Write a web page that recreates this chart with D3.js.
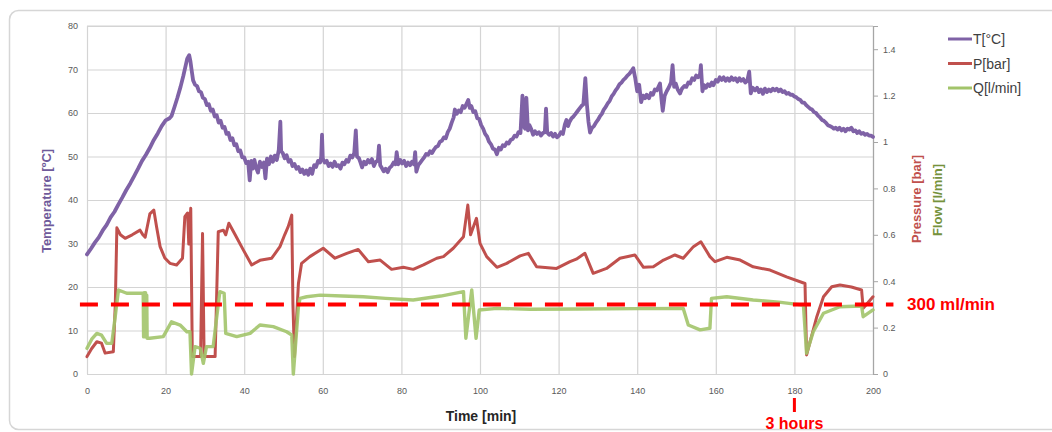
<!DOCTYPE html>
<html lang="en">
<head>
  <meta charset="UTF-8">
  <title>Temperature, pressure and flow vs time</title>
  <style>
    body { margin: 0; background: #fff; font-family: "Liberation Sans", Arial, sans-serif; }
    .tick text { font-size: 9px; fill: #595959; font-family: "Liberation Sans", Arial, sans-serif; }
    .grid line { stroke: #d4d4d4; stroke-width: 1.2; }
    .grid path { stroke: none; }
  </style>
</head>
<body>
<div id="chart"></div>
<script src="https://d3js.org/d3.v7.min.js"></script>
<script>
  // time [min], temperature [°C]
  const tempData = [[0,27.5],[1,28.8],[2,30.2],[3,31.4],[4,33],[5,34.3],[6,36],[7,37.3],[8,39],[9,40.6],[10,42.3],[11,43.8],[12,45.5],[13,47.2],[14,49],[15,50.4],[16,52],[17,53.8],[18,55.3],[19,57],[20,58.3],[21,58.8],[21.5,59.3],[22.3,61.5],[23,63.5],[23.8,66],[24.5,68.5],[25,70.5],[25.5,72.5],[26,73.3],[26.3,72],[26.6,70],[27,67.5],[27.5,66.5],[28,66.2],[28.5,65],[29,64.8],[29.5,63.5],[30,63.2],[30.5,61.8],[31,62],[31.5,60.5],[32,60.8],[32.5,59.2],[33,59.5],[33.5,57.8],[34,58.2],[34.5,56.6],[35,56.8],[35.5,55.2],[36,55.4],[36.5,53.8],[37,54.2],[37.5,52.6],[38,52.8],[38.5,51.2],[39,51.4],[39.5,49.8],[40,49.8],[40.5,48.5],[41,48.8],[41.4,44.5],[41.8,49],
    [42.2,47.2],[42.6,49.2],[43,47.5],[43.5,46.3],[44,48.8],[44.5,47.6],[45,48.6],[45.4,45],[45.8,49.5],[46.3,48.2],[46.8,50],[47.3,48.8],[47.8,50.2],[48.3,49.2],[48.8,51.5],[49.2,58],[49.4,51.2],[49.8,50.8],[50.3,49.6],[50.8,50.3],[51.3,48.8],[51.8,49.2],[52.3,47.8],[52.8,48.3],[53.3,47.2],[53.8,47.6],[54.3,46.4],[54.8,47],[55.3,46],[55.8,46.8],[56.3,45.8],[56.8,47.2],[57.3,46],[57.8,48],[58.3,47.6],[58.8,49],[59.3,48.6],[59.6,50],[59.8,55],[60,49.5],[60.5,48.6],[61,49],[61.5,47.8],[62,48.4],[62.5,47.6],[63,48.8],[63.5,47.8],[64,48],[64.5,47.2],[65,48.6],[65.5,48.2],[66,49.2],[66.5,48.8],[67,50.2],[67.5,49.8],[68,50.8],[68.4,56],[68.7,50],[69.2,49.6],[69.6,48.6],[70,47.5],[70.5,48.8],[71,48.2],[71.5,49.2],[72,48.6],[72.5,49.4],[73,47.8],[73.5,48.8],[74,49],[74.3,52.5],[74.6,48],[75,47.4],[75.5,46.6],[76,47.2],[76.5,46.4],[77,47.4],[77.5,47.8],[78,48.6],[78.5,48.2],[78.8,51],[79.2,48.2],[79.7,49.2],[80.2,48.4],[80.7,49],[81.2,47.8],[81.7,48.6],[82.2,48],[82.7,48.8],[83.2,48.2],[83.5,51],[83.8,46.5],[84.3,48],[84.8,48.6],[85.3,49.2],[85.8,49.8],[86.3,50.6],[86.8,50.4],[87.3,51.2],[87.8,50.8],[88.3,51.6],[88.8,52.2],[89.3,52.4],[89.8,53.4],[90.3,53.6],[90.8,54.4],[91.3,54.2],[91.8,55.6],[92.3,56.4],[92.8,57.8],[93.3,59],[93.6,60.8],[94.1,59.8],[94.6,60.6],[95.1,60.2],[95.6,61.6],[96.1,61.2],[96.6,62.2],[97,63],[97.4,61.2],[97.8,61.6],[98.3,60.2],[98.8,60.4],[99.3,58.8],[99.8,58.6],
    [100.3,57.2],[100.8,56.4],[101.3,55.2],[101.8,54.6],[102.3,53.4],[102.8,52.8],[103.3,51.8],[103.8,51.6],[104.3,50.5],[104.8,52],[105.3,51.6],[105.8,52.6],[106.3,52.4],[106.8,53.2],[107.3,53],[107.8,53.8],[108.3,54],[108.8,54.8],[109.3,54.6],[109.8,55.6],[110.3,55.4],[110.8,64],[111.1,57],[111.5,56.4],[111.8,63.5],[112.2,56],[112.6,57.2],[113,56.4],[113.5,55],[114,55.8],[114.5,55.2],[115,55.6],[115.5,54.8],[116,55.4],[116.5,55.6],[116.8,61],[117.1,55.5],[117.6,55],[118.1,55.4],[118.6,54.6],[119.1,55.2],[119.6,54.4],[120.1,54.8],[120.6,55.6],[121.1,55.2],[121.6,57.4],[122,58.4],[122.4,57],[122.8,58],[123.3,58.8],[123.8,59.2],[124.3,59.8],[124.8,60.4],[125.3,61],[125.8,61.6],[126.3,62],[126.8,68],[127.2,62],[127.6,58],[128,55.5],[128.5,56.6],[129,57],[129.5,57.8],[130,58.4],[130.5,59.2],[131,59.8],[131.5,60.8],[132,61.4],[132.5,62.2],[133,62.8],[133.5,63.8],[134,64.4],[134.5,65.2],[135,65.8],[135.5,66.6],[136,67],[136.5,67.6],[137,68],[137.5,68.6],[138,69],[138.5,69.6],[139,70.3],[139.5,68],[140,65],[140.5,66.5],[141,62.5],[141.5,64],[142,63.4],[142.4,64.2],[143,63.4],[143.5,64.6],[144,64.2],[144.5,65.4],[145,65.2],[145.5,66.2],[145.8,66.8],[146.2,63],[146.5,60.5],[147,64],[147.5,65],[148,65.8],[148.6,67],[149,71],[149.4,66],[149.8,66.8],[150.3,65.4],[150.9,64.5],[151.4,65.6],[152,66.2],[152.5,66],[153,67],[153.5,66.8],[154,68],[154.5,67.6],[155,68.6],[155.5,68.2],[156,69],[156.2,71],[156.6,65],[157,66.4],[157.5,65.8],[158,66.6],[158.5,66.2],[159,67],[159.4,66.4],[160,67.6],[160.5,67.2],[161,68.2],[161.5,67.6],[162,68.2],[162.5,67.4],[163,68],[163.5,67.4],[164,68.2],[164.5,67.6],[165,68],[165.5,67.2],[166,68],[166.5,67.4],[167,67.8],[167.5,67],[168,67.4],[168.5,69.5],[168.9,64.5],[169.4,65.8],[170,65.2],[170.5,65.8],[171,64.8],[171.5,65.4],[172,64.4],[172.5,65.6],[173,64.8],[173.5,65.4],[174,65],[174.5,65.6],[175,65.2],[175.5,65.6],[176,65],[176.5,65.4],[177,64.8],[177.5,65],[178,64.4],[178.5,64.6],[179,64.2],[179.5,64.2],[180,63.8],[180.5,63.6],[181,63.2],[181.5,63],[182,62.4],[182.5,62.4],[183,61.8],[183.5,61.4],[184,61],[184.5,60.8],[185,60.2],[185.5,60],[186,59.4],[186.5,59],[187,58.4],[187.5,58.2],[188,57.8],[188.5,57.2],[189,57],[189.5,56.8],[190,56.4],[190.5,56.6],[191,56.2],[191.5,56.6],[192,56],[192.5,56.4],[193,55.8],[193.5,56.4],[194,56.2],[194.5,56.6],[195,55.8],[195.5,56],[196,55.4],[196.5,55.8],[197,55.2],[197.5,55.4],[198,55],[198.5,55.2],[199,54.8],[199.5,54.8],[200,54.5]];

  // time [min], pressure [bar]
  const pressData = [[0,0.075],[1.2,0.11],[2.5,0.139],[3.7,0.133],[4.6,0.09],[6.7,0.096],[7.2,0.3],[7.6,0.63],[8.5,0.6],[9.7,0.585],[11.5,0.6],[13.5,0.62],[14.2,0.6],[14.8,0.59],[15.4,0.64],[16,0.69],[17,0.707],[17.7,0.635],[18.6,0.549],[19.8,0.5],[21.1,0.477],[22.8,0.47],[24.3,0.499],[24.9,0.678],[25.6,0.694],[25.9,0.56],[26.4,0.714],[26.8,0.075],[28.9,0.075],[29.4,0.606],[29.8,0.075],[32.6,0.075],[33.4,0.613],[34.7,0.62],[35.3,0.6],[36.1,0.65],[37.7,0.6],[39.8,0.534],[41.9,0.47],[44,0.49],[47,0.499],[49.1,0.549],[50.3,0.6],[51.2,0.635],[52.1,0.685],[52.4,0.3],[52.8,0.075],[53.8,0.39],[54.6,0.477],[56.7,0.506],[60.1,0.542],[63.1,0.499],[66.1,0.52],[69,0.537],[71.6,0.484],[74.6,0.491],[77.5,0.451],[80.5,0.46],[83,0.451],[85.6,0.47],[89,0.499],[90.7,0.506],[93.2,0.542],[95.8,0.592],[96.9,0.728],[97.6,0.6],[99.1,0.671],[100,0.563],[101.7,0.506],[104.3,0.46],[106.8,0.477],[110.2,0.509],[112.3,0.52],[114.4,0.462],[119.5,0.455],[122.9,0.484],[124.5,0.495],[126.7,0.52],[128.8,0.434],[132.2,0.455],[135.6,0.499],[139.4,0.513],[141.6,0.46],[144.1,0.462],[146.7,0.491],[149.6,0.513],[151.7,0.499],[154.3,0.549],[156.2,0.57],[158.5,0.506],[159.8,0.484],[162.8,0.503],[166.2,0.491],[169.5,0.462],[173.8,0.448],[178,0.419],[182.7,0.39],[183.1,0.082],[185.7,0.247],[187.4,0.333],[189.5,0.376],[191.6,0.384],[194.5,0.375],[197.1,0.362],[197.5,0.283],[200,0.333]];

  // time [min], flow [l/min]
  const flowData = [[0,0.111],[1.2,0.15],[2.5,0.175],[3.7,0.168],[5,0.132],[6.3,0.132],[7.2,0.25],[8,0.362],[10.1,0.348],[14.3,0.348],[14.4,0.16],[14.5,0.35],[14.6,0.16],[14.7,0.35],[14.8,0.16],[14.9,0.35],[15,0.16],[15.2,0.34],[15.3,0.154],[16,0.154],[19.4,0.161],[21.5,0.225],[23.7,0.211],[25.4,0.182],[26.2,0.182],[26.6,0],[27.5,0.118],[28.8,0.111],[29.6,0.046],[30.4,0.118],[32.1,0.118],[33.8,0.355],[34.9,0.348],[35.3,0.175],[38.1,0.161],[41.5,0.175],[44,0.211],[47.4,0.204],[50.8,0.182],[52.1,0.168],[52.5,0],[53.8,0.29],[54.2,0.326],[55.9,0.333],[59.3,0.34],[65,0.336],[70.3,0.333],[76,0.326],[83,0.319],[90,0.336],[95.8,0.355],[96.4,0.154],[97.9,0.362],[99,0.154],[99.8,0.276],[104.3,0.283],[112.7,0.279],[125,0.28],[140,0.282],[151.7,0.283],[153,0.211],[156,0.19],[158.5,0.197],[158.9,0.326],[162.8,0.333],[169.5,0.319],[176,0.31],[182.3,0.297],[183.1,0.089],[184.8,0.182],[187.4,0.262],[191.6,0.29],[197.1,0.293],[197.5,0.247],[200,0.276]];

  const xTicks = d3.range(0, 201, 20);
  const leftTicks = d3.range(0, 81, 10);
  const rightTicks = [0, 0.2, 0.4, 0.6, 0.8, 1, 1.2, 1.4];
  const flowLimit = 0.3;

  const series = [
    { name: "T[°C]", data: tempData, color: "#7f62a6", axis: "left", width: 3.8 },
    { name: "P[bar]", data: pressData, color: "#c0504d", axis: "right", width: 3 },
    { name: "Q[l/min]", data: flowData, color: "#a2c46a", axis: "right", width: 3.4 }
  ];

  const W = 1052, H = 432;
  const plot = { left: 87, right: 873, top: 26, bottom: 374 };

  const svg = d3.select("#chart").append("svg")
    .attr("width", W).attr("height", H);

  // chart frame
  svg.append("rect")
    .attr("x", 9.5).attr("y", 10.5)
    .attr("width", 1060).attr("height", 419)
    .attr("rx", 9)
    .attr("fill", "#fff")
    .attr("stroke", "#d6d6d6")
    .attr("stroke-width", 1.5);

  const x = d3.scaleLinear().domain([0, 200]).range([plot.left, plot.right]);
  const yL = d3.scaleLinear().domain([0, 80]).range([plot.bottom, plot.top]);
  const yR = d3.scaleLinear().domain([0, 1.5]).range([plot.bottom, plot.top]);

  // grid
  svg.append("g").attr("class", "grid")
    .attr("transform", `translate(${plot.left},0)`)
    .call(d3.axisLeft(yL).tickValues(leftTicks).tickSize(-(plot.right - plot.left)).tickFormat(""));
  svg.append("g").attr("class", "grid")
    .attr("transform", `translate(0,${plot.top})`)
    .call(d3.axisBottom(x).tickValues(xTicks).tickSize(plot.bottom - plot.top).tickFormat(""));
  svg.append("line")
    .attr("x1", plot.left).attr("x2", plot.right)
    .attr("y1", plot.top).attr("y2", plot.top)
    .attr("stroke", "#d4d4d4").attr("stroke-width", 1.2);

  // left axis labels
  svg.append("g")
    .attr("transform", `translate(${plot.left},0)`)
    .call(d3.axisLeft(yL).tickValues(leftTicks).tickSize(0).tickPadding(9))
    .call(g => g.select(".domain").remove());

  // bottom axis labels
  svg.append("g")
    .attr("transform", `translate(0,${plot.bottom})`)
    .call(d3.axisBottom(x).tickValues(xTicks).tickSize(0).tickPadding(14))
    .call(g => g.select(".domain").remove());

  // right axis
  const ra = svg.append("g")
    .attr("transform", `translate(${plot.right},0)`)
    .call(d3.axisRight(yR).tickValues(rightTicks).tickSize(5).tickPadding(5)
      .tickFormat(d => String(+d.toFixed(1))));
  ra.select(".domain").attr("stroke", "#a6a6a6").attr("stroke-width", 1.2);
  ra.selectAll(".tick line").attr("stroke", "#a6a6a6");

  // series lines
  series.forEach(s => {
    const y = s.axis === "left" ? yL : yR;
    svg.append("path")
      .datum(s.data)
      .attr("fill", "none")
      .attr("stroke", s.color)
      .attr("stroke-width", s.width)
      .attr("stroke-linejoin", "round")
      .attr("stroke-linecap", "round")
      .attr("opacity", s.name.startsWith("Q") ? 0.9 : 1)
      .attr("d", d3.line().x(d => x(d[0])).y(d => y(d[1])));
  });

  // 300 ml/min limit
  svg.append("line")
    .attr("x1", x(-1.8)).attr("x2", x(205.2))
    .attr("y1", yR(flowLimit)).attr("y2", yR(flowLimit))
    .attr("stroke", "#ff0000")
    .attr("stroke-width", 4)
    .attr("stroke-dasharray", "18,13");
  svg.append("text")
    .attr("x", 907).attr("y", yR(flowLimit) + 6)
    .attr("font-size", 17).attr("font-weight", "bold")
    .attr("fill", "#ff0000")
    .text("300 ml/min");

  // 3 hours marker
  svg.append("line")
    .attr("x1", x(180)).attr("x2", x(180))
    .attr("y1", 398).attr("y2", 412)
    .attr("stroke", "#ff0000").attr("stroke-width", 3);
  svg.append("text")
    .attr("x", x(180)).attr("y", 429)
    .attr("text-anchor", "middle")
    .attr("font-size", 16).attr("font-weight", "bold")
    .attr("fill", "#ff0000")
    .text("3 hours");

  // axis titles
  svg.append("text")
    .attr("transform", "translate(51,201) rotate(-90)")
    .attr("text-anchor", "middle")
    .attr("font-size", 13).attr("font-weight", "bold")
    .attr("fill", "#6f5a9a")
    .text("Temperature [ºC]");
  svg.append("text")
    .attr("transform", "translate(921,199) rotate(-90)")
    .attr("text-anchor", "middle")
    .attr("font-size", 13).attr("font-weight", "bold")
    .attr("fill", "#c0504d")
    .text("Pressure [bar]");
  svg.append("text")
    .attr("transform", "translate(942,200) rotate(-90)")
    .attr("text-anchor", "middle")
    .attr("font-size", 13).attr("font-weight", "bold")
    .attr("fill", "#76923c")
    .text("Flow [l/min]");
  svg.append("text")
    .attr("x", 481).attr("y", 421)
    .attr("text-anchor", "middle")
    .attr("font-size", 14).attr("font-weight", "bold")
    .attr("fill", "#262626")
    .text("Time [min]");

  // legend
  const lg = svg.append("g").attr("transform", "translate(948,39)");
  series.forEach((s, i) => {
    const row = lg.append("g").attr("transform", `translate(0,${i * 24.5})`);
    row.append("line")
      .attr("x1", 0).attr("x2", 24)
      .attr("stroke", s.color).attr("stroke-width", 3);
    row.append("text")
      .attr("x", 25).attr("y", 5)
      .attr("font-size", 14).attr("fill", "#404040")
      .text(s.name);
  });
</script>
</body>
</html>
